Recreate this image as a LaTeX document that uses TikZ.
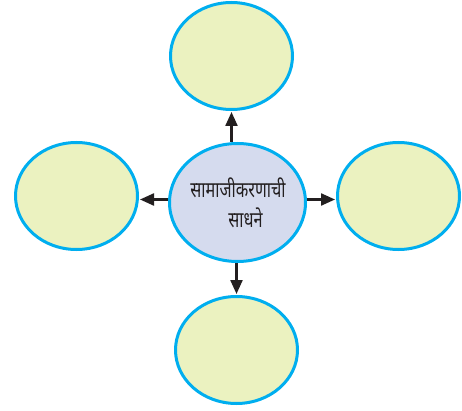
\documentclass[tikz,border=0pt]{standalone}
\usepackage{fontspec}
\newfontfamily\devfont[Script=Devanagari,FakeStretch=0.74]{Noto Sans}
\usetikzlibrary{shapes.geometric,arrows.meta}
\definecolor{ringblue}{HTML}{00AEEF}
\definecolor{leafgreen}{HTML}{EBF2C0}
\definecolor{hubblue}{HTML}{D5DBEE}
\definecolor{arrowdark}{HTML}{231F20}
\tikzset{
  leaf/.style={ellipse, draw=ringblue, fill=leafgreen, line width=3pt, inner sep=0pt, minimum width=122pt, minimum height=107pt},
  hub/.style={ellipse, draw=ringblue, fill=hubblue, line width=3pt, inner sep=0pt, minimum width=136pt, minimum height=118pt},
  arr/.style={draw=arrowdark, line width=2.3pt, -{Triangle[length=14pt,width=12pt]}, shorten >=1pt}
}
\begin{document}
\begin{tikzpicture}[x=1pt,y=-1pt]
\useasboundingbox (0,0) rectangle (462,411);
\node[hub] (c) at (237.5,202.5) {};
\node[leaf] (top) at (231.5,56) {};
\node[leaf] (left) at (76.5,196) {};
\node[leaf] (right) at (398.5,196) {};
\node[leaf] (bot) at (236.5,350) {};
\node[font=\devfont\fontsize{22}{30}\selectfont, align=center, inner sep=0pt, text=arrowdark] (lbl) at (238,203) {सामाजीकरणाची\\\hspace*{15pt}साधने};
\draw[arr] (top.south |- c.north) -- (top.south);
\draw[arr] (bot.north |- c.south) -- (bot.north);
\draw[arr] ([yshift=3pt]c.east) -- ([yshift=3pt]c.east -| right.west);
\draw[arr] ([yshift=3pt]c.west) -- ([yshift=3pt]c.west -| left.east);
\end{tikzpicture}
\end{document}
